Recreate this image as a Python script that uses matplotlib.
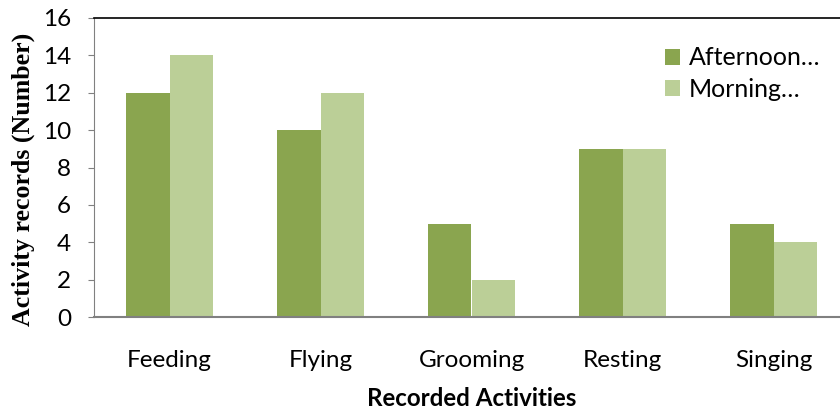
import numpy as np
import matplotlib.pyplot as plt

activities = ['Feeding', 'Flying', 'Grooming', 'Resting', 'Singing']
afternoon = [12, 10, 5, 9, 5]
morning = [14, 12, 2, 9, 4]
series_names = ['Afternoon…', 'Morning…']
yticks = [0, 2, 4, 6, 8, 10, 12, 14, 16]

dark_green = '#8AA54F'
light_green = '#BBCF97'

fig = plt.figure(figsize=(8.4, 4.12), dpi=100)
# plot area runs past the right edge, like the original
ax = fig.add_axes([94 / 840, 1 - 317 / 412, 755 / 840, 299 / 412])

x = np.arange(len(activities))
w = 0.285
ax.bar(x - w / 2, afternoon, w, color=dark_green, label=series_names[0])
ax.bar(x + w / 2, morning, w, color=light_green, label=series_names[1])

ax.set_xlim(-0.5, len(activities) - 0.5)
ax.set_ylim(0, 16)
ax.set_yticks(yticks)
ax.set_xticks(x)
ax.set_xticklabels(activities, family='Lato', fontsize=17.5)
for lab in ax.get_yticklabels():
    lab.set_family('Lato')
    lab.set_fontsize(17.5)

ax.tick_params(axis='x', length=0, pad=24)
ax.tick_params(axis='y', length=4.5, color='#808080', pad=12)

ax.spines['right'].set_visible(False)
ax.spines['top'].set_color('black')
ax.spines['top'].set_linewidth(1.2)
ax.spines['left'].set_color('#808080')
ax.spines['bottom'].set_color('#808080')
ax.spines['bottom'].set_linewidth(1.5)

ax.set_xlabel('Recorded Activities', family='Lato', fontweight='bold', fontsize=17.4)
ax.xaxis.set_label_coords(0.5, -(399 - 317) / 299)
ax.xaxis.label.set_va('center')
ax.set_ylabel('Activity records (Number)', family='Liberation Serif', fontweight='bold', fontsize=18.6)
ax.yaxis.set_label_coords(-71 / 755, (317 - 179) / 299)
ax.yaxis.label.set_va('center')

leg = ax.legend(loc='upper left', bbox_to_anchor=(571 / 755, 0.905), frameon=False,
                prop={'family': 'Lato', 'size': 18}, handlelength=0.6, handleheight=0.6,
                handletextpad=0.35, labelspacing=0.33, borderaxespad=0, borderpad=0)

fig.savefig('out.png', dpi=100)
